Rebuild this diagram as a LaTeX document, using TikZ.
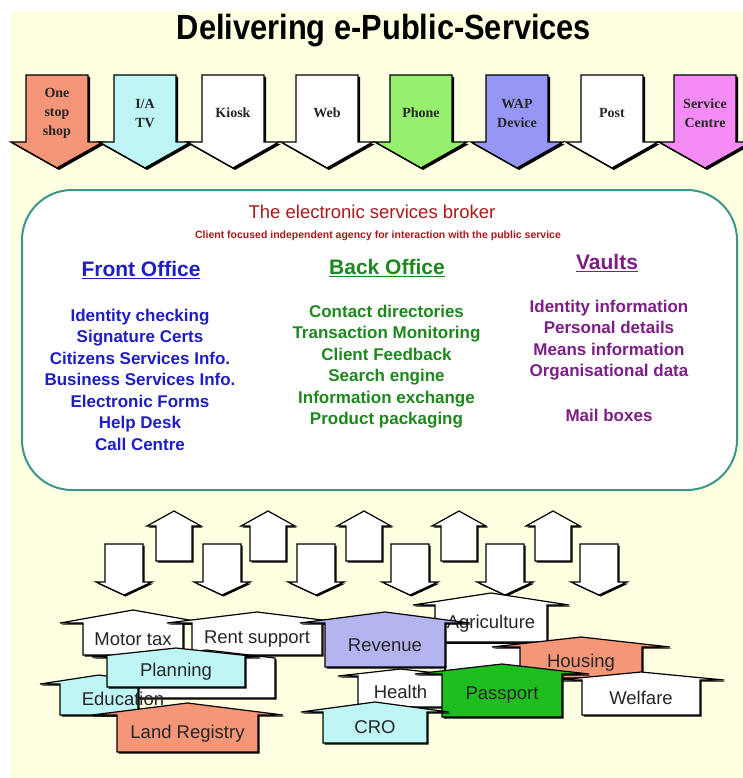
\documentclass[tikz,border=0pt]{standalone}
\usepackage{fontspec}
\setmainfont{Liberation Sans}
\newfontfamily\chanfont{Liberation Serif}
\newfontfamily\titlefont[FakeStretch=0.88]{Liberation Sans}
\usetikzlibrary{shadows}

\definecolor{bgyellow}{RGB}{255,255,225}
\definecolor{brokerteal}{RGB}{60,150,140}
\definecolor{brokerred}{RGB}{170,25,25}
\definecolor{frontblue}{RGB}{30,30,195}
\definecolor{backgreen}{RGB}{30,135,30}
\definecolor{vaultpurple}{RGB}{125,30,135}
\definecolor{salmon}{RGB}{245,150,120}
\definecolor{paleblue}{RGB}{190,245,245}
\definecolor{palegreen}{RGB}{150,240,110}
\definecolor{periwinkle}{RGB}{150,150,245}
\definecolor{lavender}{RGB}{180,180,240}
\definecolor{pink}{RGB}{245,140,245}
\definecolor{passgreen}{RGB}{30,190,30}

% channel arrow: name, colour, centre x, label
\newcommand\chanarrow[4]{%
  \draw[chan, fill=#2] (#3-31,75) -- (#3+31,75) -- (#3+31,142) -- (#3+46,142)
      -- (#3,168) -- (#3-46,142) -- (#3-31,142) -- cycle;
  \node[chanlabel] (#1) at (#3,113) {#4};}
% small arrows between broker and agencies
\newcommand\uparr[1]{%
  \draw[flow] (#1-18,561) -- (#1-18,526) -- (#1-27,526) -- (#1,511)
      -- (#1+27,526) -- (#1+18,526) -- (#1+18,561) -- cycle;}
\newcommand\downarr[1]{%
  \draw[flow] (#1-19,544) -- (#1+19,544) -- (#1+19,582) -- (#1+28,582)
      -- (#1,595) -- (#1-28,582) -- (#1-19,582) -- cycle;}
% agency house: name, colour, left, right, top, bottom, eave, roof, label
\newcommand\house[9]{%
  \pgfmathsetmacro\hx{(#3+#4)/2}%
  \draw[housebox, fill=#2] (#3,#6) -- (#3,#5) -- (#3-#7,#5) -- (\hx,#5-#8)
      -- (#4+#7,#5) -- (#4,#5) -- (#4,#6) -- cycle;
  \node[houselabel] (#1) at (\hx,{(#5+#6)/2}) {#9};}

\begin{document}
\begin{tikzpicture}[
        x=1pt, y=-1pt,
        chan/.style={draw=black, line width=1.4pt,
            drop shadow={shadow xshift=2pt, shadow yshift=-2pt, opacity=1, fill=black}},
        chanlabel/.style={font=\chanfont\bfseries\fontsize{14}{19}\selectfont,
            align=center, text=black!85},
        flow/.style={draw=black, line width=1.2pt, fill=white,
            drop shadow={shadow xshift=1.5pt, shadow yshift=-1.5pt, opacity=1, fill=black}},
        housebox/.style={draw=black, line width=1.2pt,
            drop shadow={shadow xshift=1.5pt, shadow yshift=-1.5pt, opacity=1, fill=black}},
        houselabel/.style={font=\fontsize{18.5}{20}\selectfont, text=black!85},
        brokerbox/.style={draw=brokerteal, line width=2pt, fill=white, rounded corners=50pt},
        heading/.style={font=\bfseries\fontsize{21}{24}\selectfont},
        itemlist/.style={font=\bfseries\fontsize{17}{21.5}\selectfont, align=center},
    ]
    \useasboundingbox (0,0) rectangle (743,778);
    \fill[bgyellow] (11,11) rectangle (743,778);

    \node[font=\titlefont\bfseries\fontsize{35}{40}\selectfont] (title) at (384,31)
        {Delivering e-Public-Services};

    \chanarrow{onestop}{salmon}{57}{One\\stop\\shop}
    \chanarrow{iatv}{paleblue}{145}{I/A\\TV}
    \chanarrow{kiosk}{white}{233}{Kiosk}
    \chanarrow{web}{white}{327}{Web}
    \chanarrow{phone}{palegreen}{421}{Phone}
    \chanarrow{wap}{periwinkle}{517}{WAP\\Device}
    \chanarrow{post}{white}{612}{Post}
    \chanarrow{centre}{pink}{705}{Service\\Centre}

    \draw[brokerbox] (22,190) rectangle (737,490);
    \node[text=brokerred, font=\fontsize{18.5}{20}\selectfont] (broker) at (372,212)
        {The electronic services broker};
    \node[text=brokerred, font=\bfseries\fontsize{10.5}{12}\selectfont] (agency) at (378,236)
        {Client focused independent agency for interaction with the public service};
    \node[heading, text=frontblue] (front) at (141,270) {\underline{Front Office}};
    \node[heading, text=backgreen] (back) at (387,268) {\underline{Back Office}};
    \node[heading, text=vaultpurple] (vaults) at (607,263) {\underline{Vaults}};
    \node[itemlist, text=frontblue] (frontitems) at (140,379.5)
        {Identity checking\\Signature Certs\\Citizens Services Info.\\Business Services Info.\\Electronic Forms\\Help Desk\\Call Centre};
    \node[itemlist, text=backgreen] (backitems) at (386.5,366.5)
        {Contact directories\\Transaction Monitoring\\Client Feedback\\Search engine\\Information exchange\\Product packaging};
    \node[itemlist, text=vaultpurple] (vaultitems) at (609,340)
        {Identity information\\Personal details\\Means information\\Organisational data};
    \node[itemlist, text=vaultpurple] (mailboxes) at (609,415) {Mail boxes};

    \uparr{174} \uparr{268} \uparr{364} \uparr{459} \uparr{553}
    \downarr{124} \downarr{222} \downarr{316} \downarr{410} \downarr{505} \downarr{599}

    \house{blanktwo}{white}{445}{560}{643}{672}{0}{0}{}
    \house{agri}{white}{435}{547}{605}{642}{22}{12}{Agriculture}
    \house{motor}{white}{83}{183}{623}{655}{23}{13}{Motor tax}
    \house{rent}{white}{192}{322}{623}{655}{25}{11}{Rent support}
    \house{revenue}{lavender}{325}{445}{623}{667}{25}{11}{Revenue}
    \house{housing}{salmon}{520}{642}{647}{678}{28}{10}{Housing}
    \house{welfare}{white}{582}{700}{680}{715}{24}{8}{Welfare}
    \house{health}{white}{358}{443}{676}{707}{20}{7}{Health}
    \house{passport}{passgreen}{442}{562}{674}{717}{27}{10}{Passport}
    \house{cro}{paleblue}{323}{427}{712}{743}{22}{10}{CRO}
    \house{blankone}{white}{138}{275}{658}{698}{0}{8}{}
    \house{eduhouse}{paleblue}{60}{138}{684}{715}{20}{9}{}
    \node[houselabel] (education) at (123,699) {Education};
    \house{planning}{paleblue}{107}{245}{657}{687}{15}{9}{Planning}
    \house{land}{salmon}{117}{258}{715}{752}{25}{12}{Land Registry}
\end{tikzpicture}
\end{document}
